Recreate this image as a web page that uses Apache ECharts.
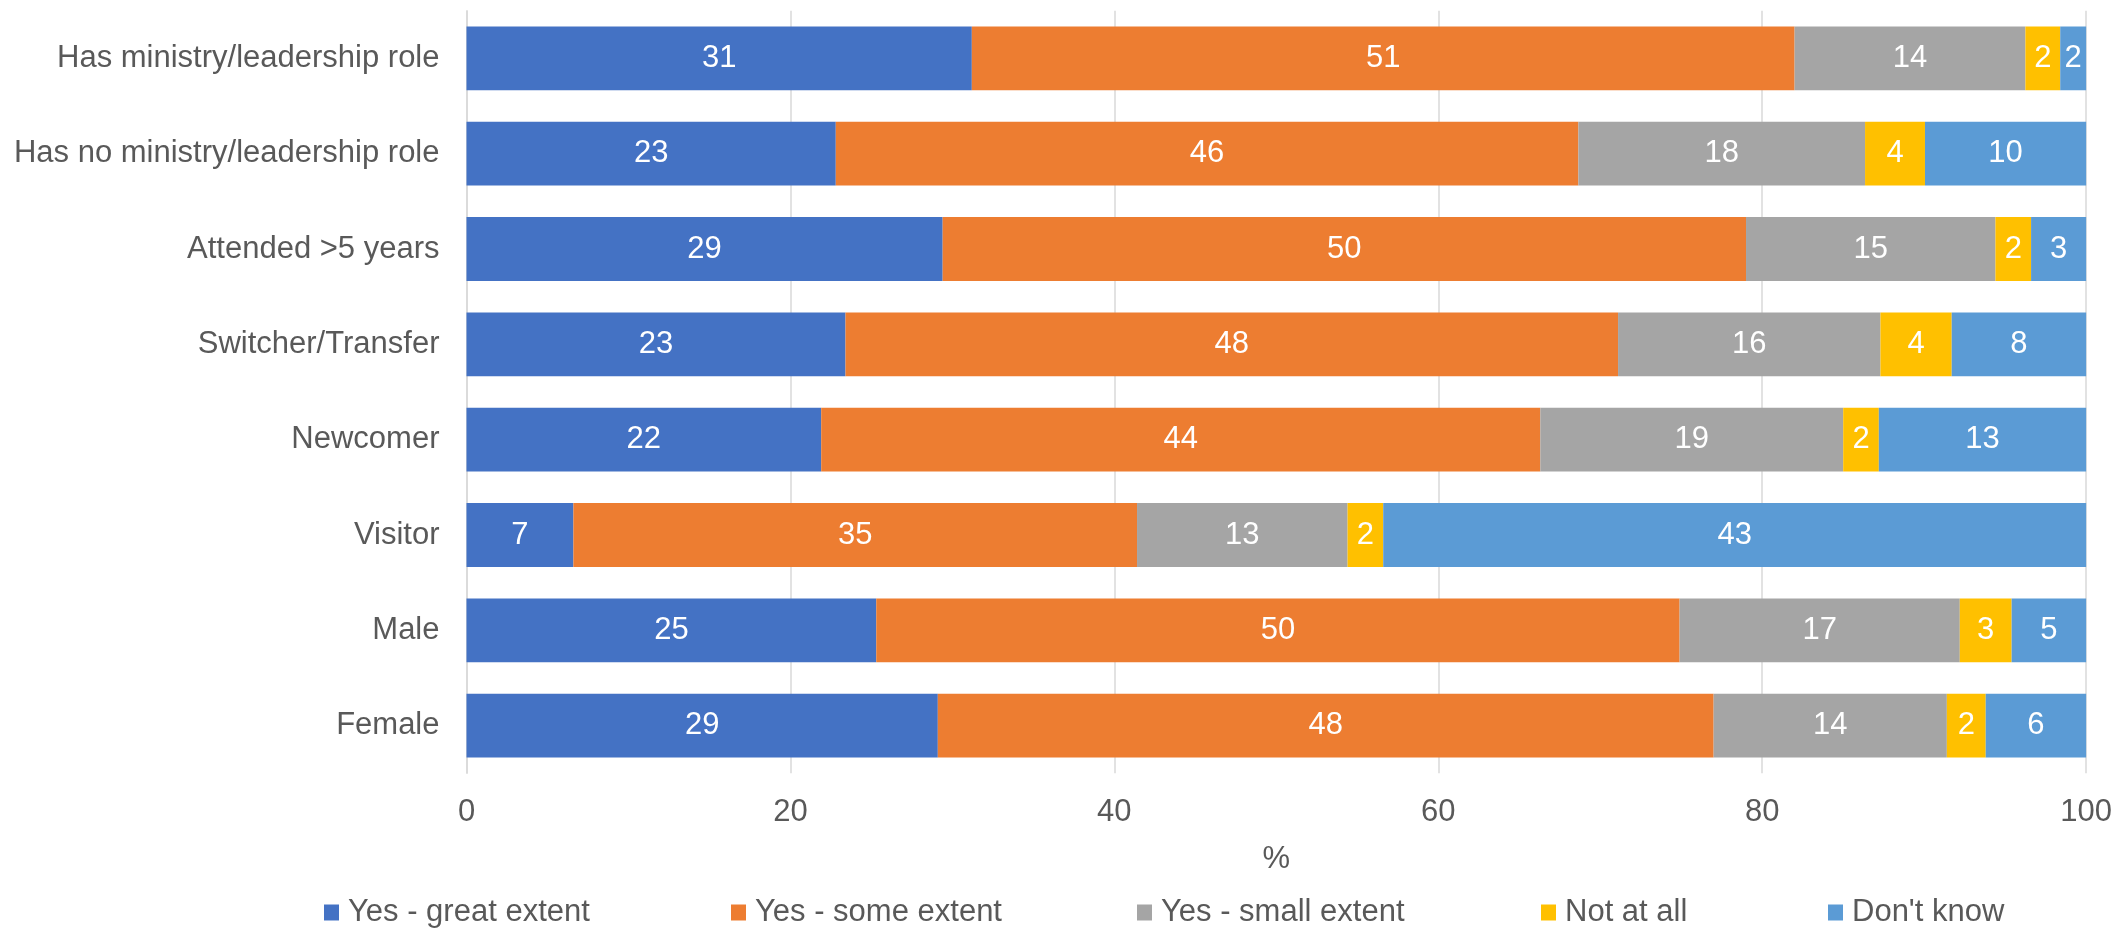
<!DOCTYPE html>
<html>
<head>
<meta charset="utf-8">
<script src="https://cdn.jsdelivr.net/npm/echarts@6/dist/echarts.min.js"></script>
<style>
html,body{margin:0;padding:0;background:#fff;}
#chart{width:2115px;height:929px;}
</style>
</head>
<body>
<div id="chart"></div>
<script>
const categories = ["Has ministry/leadership role","Has no ministry/leadership role","Attended >5 years","Switcher/Transfer","Newcomer","Visitor","Male","Female"];
const seriesNames = ["Yes - great extent","Yes - some extent","Yes - small extent","Not at all","Don't know"];
const greatExtent = [31.2, 22.8, 29.4, 23.4, 21.9, 6.6, 25.3, 29.1];
const someExtent  = [50.8, 45.85, 49.6, 47.7, 44.4, 34.8, 49.6, 47.9];
const smallExtent = [14.25, 17.7, 15.4, 16.2, 18.7, 13.0, 17.3, 14.4];
const notAtAll    = [2.15, 3.7, 2.2, 4.4, 2.2, 2.2, 3.2, 2.4];
const dontKnow    = [1.6, 9.95, 3.4, 8.3, 12.8, 43.4, 4.6, 6.2];
const xTicks = [0, 20, 40, 60, 80, 100];

const colors = ["#4472C4","#ED7D31","#A5A5A5","#FFC000","#5B9BD5"];
const values = [greatExtent, someExtent, smallExtent, notAtAll, dontKnow];
const FONT = "Liberation Sans";
const legendLefts = [324, 731, 1137, 1541, 1828];

const chart = echarts.init(document.getElementById('chart'));
chart.setOption({
  animation: false,
  textStyle: {fontFamily: FONT},
  grid: {left: 466.5, right: 28.4, top: 10.7, bottom: 155.7, containLabel: false},
  xAxis: {
    type: 'value', min: xTicks[0], max: xTicks[xTicks.length-1], interval: 20,
    name: '%', nameLocation: 'middle', nameGap: 71,
    nameTextStyle: {color: '#595959', fontSize: 31, fontFamily: FONT},
    axisLine: {show: false}, axisTick: {show: false},
    axisLabel: {color: '#595959', fontSize: 31, fontFamily: FONT, margin: 24},
    splitLine: {show: true, lineStyle: {color: '#D9D9D9', width: 1.5}}
  },
  yAxis: {
    type: 'category', data: categories, inverse: true,
    axisLine: {show: true, lineStyle: {color: '#D9D9D9', width: 1.5}},
    axisTick: {show: false},
    axisLabel: {color: '#595959', fontSize: 31, fontFamily: FONT, margin: 27}
  },
  legend: seriesNames.map((n, i) => ({
    data: [n], left: legendLefts[i], top: 897, padding: 0, itemWidth: 15, itemHeight: 16,
    icon: 'rect',
    textStyle: {color: '#595959', fontSize: 31, fontFamily: FONT, padding: [0,0,0,4]}
  })),
  series: seriesNames.map((n, i) => ({
    name: n, type: 'bar', stack: 'total', data: values[i],
    barCategoryGap: '33%',
    itemStyle: {color: colors[i]},
    label: {show: true, position: 'inside', color: '#fff', fontSize: 31, fontFamily: FONT,
      formatter: p => Math.round(p.value)}
  }))
});
</script>
</body>
</html>
